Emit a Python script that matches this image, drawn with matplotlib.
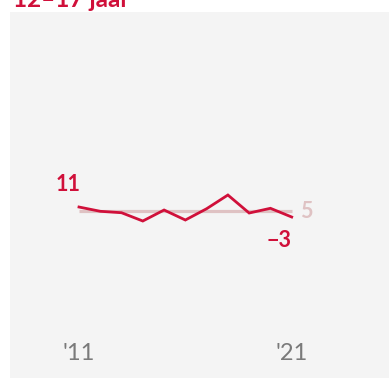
import matplotlib
matplotlib.use("Agg")
import matplotlib.pyplot as plt

plt.rcParams['font.family'] = ['Lato', 'DejaVu Sans']

years = [2011, 2012, 2013, 2014, 2015, 2016, 2017, 2018, 2019, 2020, 2021]
values = [11, 5, 3, -8.6, 6.8, -7.2, 8.6, 27.8, 2.6, 9.2, -3]
average = 5
title = "12–17 jaar"
tick_years = [2011, 2021]
tick_labels = ["'11", "'21"]

RED = "#d0103a"
PINK = "#dfc2c3"
GRAY_TXT = "#7a7a7a"

W, H = 389, 378
fig = plt.figure(figsize=(W / 100, H / 100), dpi=100)
fig.patch.set_facecolor("white")

# panel from x=10..389, y=12..378 (pixels from top)
ax = fig.add_axes([10 / W, 0, (W - 10) / W, (H - 12) / H])
ax.set_facecolor("#f4f4f4")
for s in ax.spines.values():
    s.set_visible(False)
ax.set_xticks([])
ax.set_yticks([])

px_per_year = (291.7 - 79) / 10
ax.set_xlim(2011 - (79 - 10) / px_per_year, 2021 + (389 - 291.7) / px_per_year)
k = 1.4
ax.set_ylim(average - (378 - 211.3) * k, average + (211.3 - 12) * k)

ax.plot([years[0], years[-1]], [average, average], color=PINK, lw=2.3,
        solid_capstyle='butt', zorder=1)
ax.plot(years, values, color=RED, lw=2.0, solid_joinstyle='miter', zorder=2)

ax.annotate(f"{values[0]:g}", xy=(years[0], values[0]), xytext=(-11, 23),
            textcoords='offset pixels', ha='center', va='center',
            fontsize=15.5, fontweight='bold', color=RED)
ax.annotate(f"{average:g}", xy=(years[-1], average), xytext=(15, 0),
            textcoords='offset pixels', ha='center', va='center',
            fontsize=15.5, fontweight='bold', color=PINK)
ax.annotate(f"{values[-1]:g}".replace("-", "−"), xy=(years[-1], values[-1]),
            xytext=(0, -23), textcoords='offset pixels', ha='right', va='center',
            fontsize=15.5, fontweight='bold', color=RED)

for yr, lab in zip(tick_years, tick_labels):
    ax.text(yr, (378 - 354) / 366, lab, transform=ax.get_xaxis_transform(),
            ha='center', va='center', fontsize=17, fontweight='normal', color=GRAY_TXT)

fig.text(13 / W, 1 - 6.7 / H, title, ha='left', va='baseline',
         fontsize=17.5, fontweight='bold', color=RED)

fig.savefig("out.png", dpi=100, facecolor="white")
